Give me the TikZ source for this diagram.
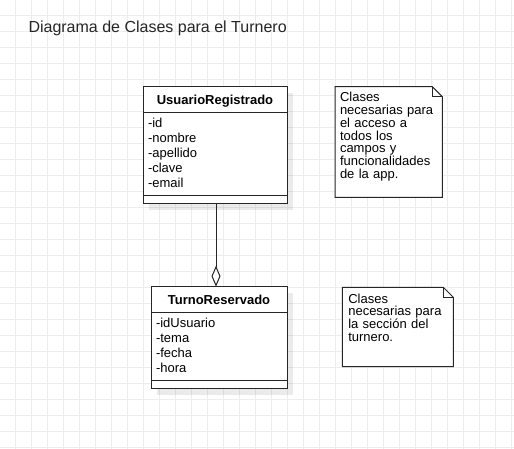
\documentclass[tikz,border=0pt]{standalone}
\usepackage{fontspec}
\setmainfont{Liberation Sans}
\usetikzlibrary{arrows.meta,positioning,shadows,backgrounds}
\tikzset{
    umlshadow/.style = {drop shadow={shadow xshift=6pt,
                    shadow yshift=-6pt,
                    fill=black,
                    opacity=0.08}},
    classhead/.style = {rectangle,
                    fill=white,
                    draw=black!85,
                    text=black,
                    line width=1pt,
                    font=\fontsize{13}{15}\selectfont\bfseries,
                    inner sep=0pt,
                    outer sep=0pt,
                    text height=18.3pt,
                    text depth=7.3pt,
                    umlshadow},
    classbody/.style = {rectangle,
                    fill=white,
                    draw=black!85,
                    text=black,
                    line width=1pt,
                    font=\fontsize{13}{15}\selectfont,
                    align=left,
                    inner xsep=5pt,
                    inner ysep=0pt,
                    outer sep=0pt,
                    text height=15.2pt,
                    umlshadow},
    classfoot/.style = {rectangle,
                    fill=white,
                    draw=black!85,
                    line width=1pt,
                    inner sep=0pt,
                    outer sep=0pt,
                    minimum height=8.4pt,
                    umlshadow},
    notetext/.style = {rectangle,
                    text=black,
                    font=\fontsize{13}{12.7}\selectfont,
                    align=left,
                    inner ysep=0pt,
                    outer sep=0pt,
                    anchor=north west},
    notebox/.style = {fill=white,
                    draw=black!85,
                    line width=1pt},
    notefold/.style = {draw=black!85,
                    line width=1pt},
    title/.style = {text=black!85,
                    font=\fontsize{16}{19}\selectfont,
                    inner sep=0pt,
                    anchor=base west},
    -,
    link/.style = {draw=black!85,
                    line width=1pt},
    gridline/.style = {draw=black!7,
                    line width=1pt}}

\begin{document}
\begin{tikzpicture}[x=1pt, y=1pt, node distance=0pt]
        \useasboundingbox (0,0) rectangle (514,449);
        \node[title]        (title)     at (28.3,416.7)     {Diagrama de Clases para el Turnero};
        % UsuarioRegistrado
        \node[classhead, minimum width=144pt, anchor=north] (usrhead) at (215,362.3) {UsuarioRegistrado};
        \node[classbody, text width=134pt, text depth=67.8pt] (usrattr) [below=of usrhead] {-id\\-nombre\\-apellido\\-clave\\-email};
        \node[classfoot, minimum width=144pt] (usrfoot) [below=of usrattr] {};
        % TurnoReservado
        \node[classhead, minimum width=136pt, anchor=north] (turnohead) at (219,162.3) {TurnoReservado};
        \node[classbody, text width=126pt, text depth=52.8pt] (turnoattr) [below=of turnohead] {-idUsuario\\-tema\\-fecha\\-hora};
        \node[classfoot, minimum width=136pt] (turnofoot) [below=of turnoattr] {};
        % notes
        \node[notetext, text width=97.3pt, inner xsep=5pt, text height=15.3pt, text depth=95.3pt] (note1) at (335,362.3) {Clases\\necesarias para\\el acceso a\\todos los\\campos y\\funcionalidades\\de la app.};
        \node[notetext, text width=99pt, inner xsep=6pt, text height=16pt, text depth=63.4pt] (note2) at (342.3,161.7) {Clases\\necesarias para\\la sección del\\turnero.};
        % aggregation
        \coordinate (linktop) at ([xshift=1pt]usrfoot.south);
        \path [link]    (linktop) edge [-{Diamond[open, length=21pt, width=9pt]}] (linktop |- turnohead.north);
        \begin{scope}[on background layer]
            \fill[white] (0,0) rectangle (514,449);
            \begin{scope}[shift={(-0.7,1.7)}]
                \clip (0.7,-1.7) rectangle (514.7,447.3);
                \draw[gridline, step=16pt] (-16,-16) grid (530,464);
            \end{scope}
            \path[notebox] (note1.south west) -- (note1.north west) -- ([xshift=-10pt]note1.north east)
                -- ([yshift=-10pt]note1.north east) -- (note1.south east) -- cycle;
            \path[notefold] ([xshift=-10pt]note1.north east) |- ([yshift=-10pt]note1.north east);
            \path[notebox] (note2.south west) -- (note2.north west) -- ([xshift=-10pt]note2.north east)
                -- ([yshift=-10pt]note2.north east) -- (note2.south east) -- cycle;
            \path[notefold] ([xshift=-10pt]note2.north east) |- ([yshift=-10pt]note2.north east);
        \end{scope}
\end{tikzpicture}
\end{document}
